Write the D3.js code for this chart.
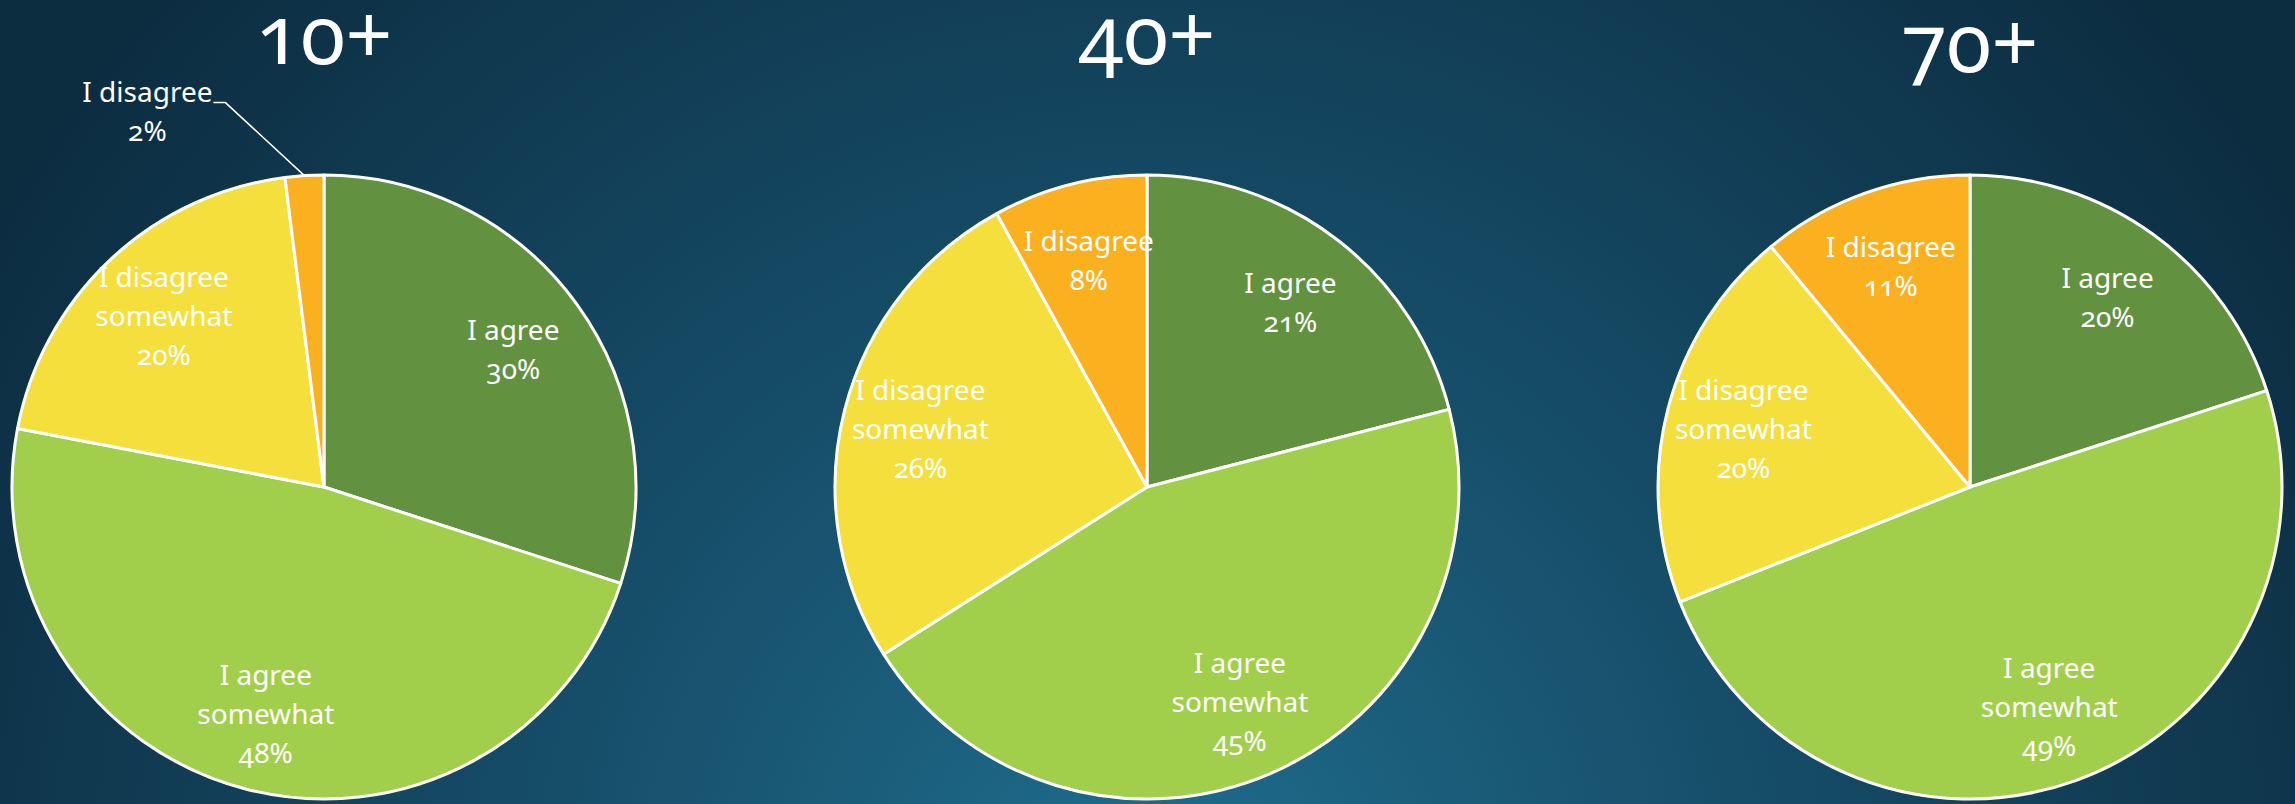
<!DOCTYPE html>
<html>
<head>
<meta charset="utf-8">
<script src="https://cdn.jsdelivr.net/npm/d3@7"></script>
<style>
    html, body { margin: 0; padding: 0; overflow: hidden; }
    svg { display: block; }
    .title { font-family: "Noto Sans", sans-serif; font-variant-numeric: oldstyle-nums; fill: #fff; }
    .lbl { font-family: "Noto Sans", sans-serif; font-variant-numeric: oldstyle-nums; fill: #fff; }
</style>
</head>
<body>
<svg></svg>
<script>
"use strict";

// age groups (one pie each)
var groups = ["10+", "40+", "70+"];

// answer categories, clockwise from 12 o'clock
var categories = ["I agree", "I agree somewhat", "I disagree somewhat", "I disagree"];

// percentages per group
var values10 = [30, 48, 20, 2];
var values40 = [21, 45, 26, 8];
var values70 = [20, 49, 20, 11];

var colors = ["#62913f", "#a2cf4b", "#f4df3c", "#fbb11f"];

var width = 2295, height = 804;
var radius = 312;
var cy = 487;

var svg = d3.select("svg")
    .attr("width", width)
    .attr("height", height);

// background gradient
var defs = svg.append("defs");
var grad = defs.append("radialGradient")
    .attr("id", "bg")
    .attr("gradientUnits", "userSpaceOnUse")
    .attr("cx", 1150).attr("cy", 900).attr("r", 1350);
grad.append("stop").attr("offset", "0%").attr("stop-color", "#1f6e8e");
grad.append("stop").attr("offset", "45%").attr("stop-color", "#164d68");
grad.append("stop").attr("offset", "100%").attr("stop-color", "#0c2c40");

svg.append("rect")
    .attr("width", width)
    .attr("height", height)
    .attr("fill", "url(#bg)");

var x = d3.scalePoint()
    .domain(groups)
    .range([324, 1970]);

var color = d3.scaleOrdinal()
    .domain(categories)
    .range(colors);

var pie = d3.pie()
    .sort(null)
    .value(function (d) { return d.value; });

var arc = d3.arc()
    .innerRadius(0)
    .outerRadius(radius);

var labelArc = d3.arc()
    .innerRadius(radius * 0.75)
    .outerRadius(radius * 0.75);

var edgeArc = d3.arc()
    .innerRadius(radius)
    .outerRadius(radius);

var series = [values10, values40, values70];

function labelLines(d) {
    var name = d.data.name;
    var lines = name.indexOf(" somewhat") > -1
        ? [name.replace(" somewhat", ""), "somewhat"]
        : [name];
    lines.push(d.data.value + "%");
    return lines;
}

var lineH = 39;

groups.forEach(function (g, gi) {
    var data = categories.map(function (c, i) {
        return { name: c, value: series[gi][i] };
    });

    var gPie = svg.append("g")
        .attr("transform", "translate(" + x(g) + "," + cy + ")");

    gPie.append("text")
        .attr("class", "title")
        .attr("x", 0)
        .attr("y", gi === 2 ? -415 : -423)
        .attr("text-anchor", "middle")
        .attr("font-size", 82)
        .text(g);

    var arcs = pie(data);

    gPie.selectAll("path")
        .data(arcs)
        .enter().append("path")
        .attr("d", arc)
        .attr("fill", function (d) { return color(d.data.name); })
        .attr("stroke", "#fff")
        .attr("stroke-width", 3)
        .attr("stroke-linejoin", "round");

    arcs.forEach(function (d) {
        var lines = labelLines(d);
        var t;
        if (d.data.value < 5) {
            // small slice: label outside with a leader line
            var p = edgeArc.centroid(d);
            var elbow = [p[0] - 79, p[1] - 73];
            var end = [elbow[0] - 12, elbow[1]];
            gPie.append("polyline")
                .attr("points", [p, elbow, end].map(function (q) { return q.join(","); }).join(" "))
                .attr("fill", "none")
                .attr("stroke", "#fff")
                .attr("stroke-width", 1.5);
            t = gPie.append("text")
                .attr("class", "lbl")
                .attr("font-size", 28)
                .attr("text-anchor", "middle")
                .attr("transform", "translate(" + (end[0] - 66) + "," + (end[1] - 1) + ")");
            lines.forEach(function (s, i) {
                t.append("tspan").attr("x", 0).attr("y", i * lineH).text(s);
            });
        } else {
            var c = labelArc.centroid(d);
            var top = -(lines.length - 1) * lineH / 2 + 10;
            t = gPie.append("text")
                .attr("class", "lbl")
                .attr("font-size", 28)
                .attr("text-anchor", "middle")
                .attr("transform", "translate(" + c[0] + "," + c[1] + ")");
            lines.forEach(function (s, i) {
                t.append("tspan").attr("x", 0).attr("y", top + i * lineH).text(s);
            });
        }
    });
});
</script>
</body>
</html>
